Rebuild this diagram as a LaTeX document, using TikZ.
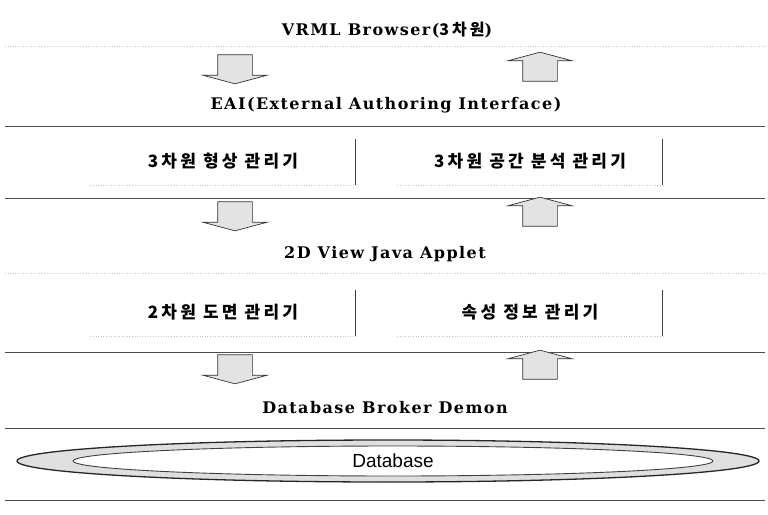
\documentclass[tikz,border=0pt]{standalone}
\usepackage{fontspec}
\setmainfont{Liberation Serif}
\setsansfont{Liberation Sans}
\newfontfamily\krfont[LetterSpace=19]{Noto Sans CJK KR}
\newfontfamily\layerfont[LetterSpace=9]{DejaVu Serif}
\usetikzlibrary{shapes.arrows,shapes.geometric}

\begin{document}
\begin{tikzpicture}[x=1pt,y=-1pt]
		\tikzstyle{every node}+=[inner sep=0pt]
		\tikzstyle{layer}=[font=\layerfont\bfseries\fontsize{16}{19}\selectfont]
		\tikzstyle{module}=[minimum width=265pt,minimum height=48pt,font=\krfont\bfseries\fontsize{17}{20}\selectfont]
		\tikzstyle{blockarrow}=[single arrow,draw=black!80,fill=gray!22,line width=0.7pt,inner xsep=17pt,inner ysep=1pt,minimum height=29pt,single arrow head extend=15pt,single arrow tip angle=150]
		\tikzstyle{rule}=[gray!60!black,line width=0.9pt]
		\tikzstyle{faint}=[gray!45,dotted,line width=0.6pt]
		\useasboundingbox (0,0) rectangle (768,514);
		\node [layer] (vrml) at (387,30) {VRML Browser({\krfont\fontsize{16}{19}\selectfont 3차원})};
		\draw [faint] (5,46) -- (765,46);
		\node [blockarrow,shape border rotate=270] (vrmldown) at (235,67) {};
		\node [blockarrow,shape border rotate=90] (vrmlup) at (540,69) {};
		\node [layer] (eai) at (386,105) {EAI(External Authoring Interface)};
		\draw [rule] (5,126) -- (765,126);
		\node [module] (shape3d) at (223,161) {3차원 형상 관리기};
		\node [module] (space3d) at (530,161) {3차원 공간 분석 관리기};
		\draw [rule] (5,198) -- (765,198);
		\node [blockarrow,shape border rotate=270] (eaidown) at (235,214) {};
		\node [blockarrow,shape border rotate=90] (eaiup) at (540,214) {};
		\node [layer] (applet) at (385,254) {2D View Java Applet};
		\draw [faint] (5,273) -- (765,273);
		\node [module] (plan2d) at (223,312) {2차원 도면 관리기};
		\node [module] (attrib) at (530,312) {속성 정보 관리기};
		\draw [rule] (5,352) -- (765,352);
		\node [blockarrow,shape border rotate=270] (appletdown) at (235,367) {};
		\node [blockarrow,shape border rotate=90] (appletup) at (540,367) {};
		\node [layer] (broker) at (385,408) {Database Broker Demon};
		\draw [rule] (5,428) -- (765,428);
		\node [ellipse,draw=black!85,line width=1.3pt,fill=gray!25,minimum width=742pt,minimum height=42pt] (dbring) at (388,461) {};
		\node [ellipse,draw=black!75,line width=0.9pt,fill=white,minimum width=640pt,minimum height=30pt,font=\sffamily\fontsize{19}{22}\selectfont] (db) at (393,461) {Database};
		\draw [rule] (5,500) -- (765,500);
		\foreach \m in {shape3d,space3d,plan2d,attrib} {
			\draw [black!75,line width=1.1pt] ([yshift=-2pt]\m.north east) -- (\m.south east);
			\draw [faint] (\m.south west) -- (\m.south east);
		}
		\end{tikzpicture}
\end{document}
